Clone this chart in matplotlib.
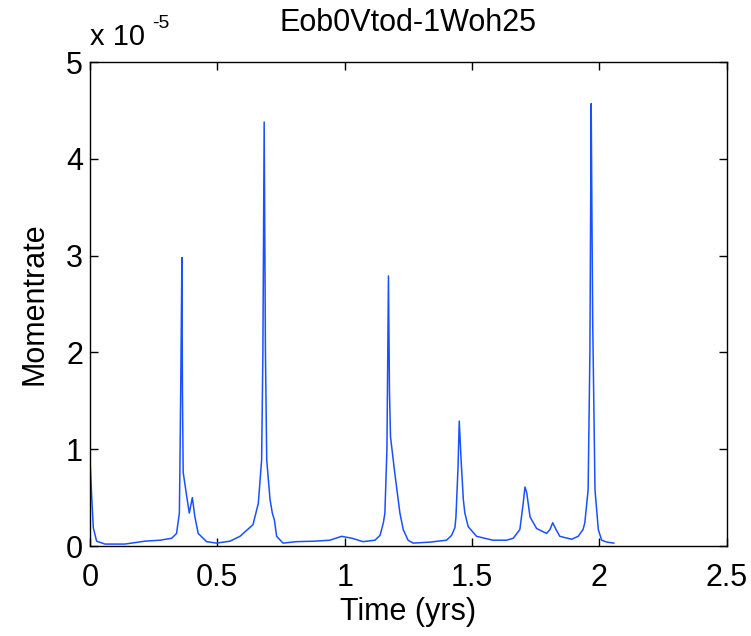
import matplotlib
matplotlib.use("Agg")
import matplotlib.pyplot as plt

# values (momentrate in units of 1e-5)
time_yrs = [
    0.000, 0.007, 0.013, 0.026, 0.059, 0.137, 0.216, 0.275, 0.321, 0.340,
    0.351, 0.353, 0.357, 0.361, 0.363, 0.366, 0.380, 0.390, 0.402, 0.412,
    0.425, 0.458, 0.497, 0.550, 0.589, 0.640, 0.661, 0.674, 0.679, 0.684,
    0.689, 0.694, 0.707, 0.716, 0.724, 0.733, 0.758, 0.812, 0.883, 0.942,
    0.988, 1.029, 1.072, 1.119, 1.139, 1.152, 1.158, 1.166, 1.172, 1.176,
    1.180, 1.197, 1.217, 1.230, 1.249, 1.269, 1.335, 1.400, 1.420, 1.433,
    1.437, 1.445, 1.450, 1.457, 1.466, 1.472, 1.485, 1.518, 1.582, 1.636,
    1.662, 1.688, 1.701, 1.708, 1.715, 1.728, 1.754, 1.793, 1.806, 1.817,
    1.830, 1.845, 1.891, 1.917, 1.936, 1.943, 1.956, 1.963, 1.968, 1.971,
    1.974, 1.983, 1.996, 2.009, 2.030, 2.057,
]
momentrate_e5 = [
    0.90, 0.50, 0.19, 0.05, 0.02, 0.02, 0.05, 0.06, 0.08, 0.13,
    0.34, 0.76, 1.80, 2.98, 1.60, 0.76, 0.51, 0.34, 0.50, 0.30,
    0.13, 0.045, 0.03, 0.05, 0.10, 0.22, 0.44, 0.89, 2.00, 4.38,
    2.00, 0.89, 0.48, 0.34, 0.27, 0.10, 0.03, 0.045, 0.05, 0.06,
    0.10, 0.08, 0.045, 0.06, 0.11, 0.24, 0.34, 1.00, 2.79, 1.60,
    1.13, 0.75, 0.34, 0.17, 0.06, 0.03, 0.04, 0.06, 0.11, 0.19,
    0.30, 0.80, 1.29, 0.90, 0.48, 0.34, 0.20, 0.10, 0.06, 0.06,
    0.08, 0.17, 0.44, 0.61, 0.55, 0.30, 0.18, 0.13, 0.17, 0.24,
    0.17, 0.10, 0.07, 0.10, 0.17, 0.24, 0.58, 2.00, 4.57, 3.40,
    2.31, 0.58, 0.17, 0.06, 0.04, 0.03,
]
x_ticks = [0, 0.5, 1, 1.5, 2, 2.5]
x_labels = ["0", "0.5", "1", "1.5", "2", "2.5"]
y_ticks = [0, 1, 2, 3, 4, 5]

plt.rcParams["font.family"] = ["Liberation Sans", "DejaVu Sans"]
FS = 22

fig = plt.figure(figsize=(7.51, 6.36), dpi=100)
ax = fig.add_axes([0.1198, 0.1415, 0.8478, 0.761])

ax.plot(time_yrs, momentrate_e5, color="#1a50ff", lw=1.1)

ax.set_xlim(0, 2.5)
ax.set_ylim(0, 5)
ax.set_xticks(x_ticks)
ax.set_xticklabels(x_labels)
ax.set_yticks(y_ticks)
ax.tick_params(direction="in", top=True, right=True, length=6, width=1,
               labelsize=FS)
ax.tick_params(axis="x", pad=12)
ax.tick_params(axis="y", pad=5)
for s in ax.spines.values():
    s.set_linewidth(1.0)

ax.set_xlabel("Time (yrs)", fontsize=FS, labelpad=3)
ax.set_ylabel("Momentrate", fontsize=FS, labelpad=12)
ax.set_title("Eob0Vtod-1Woh25", fontsize=FS, pad=22)
ax.text(0.0, 1.022, "x 10", transform=ax.transAxes, fontsize=21,
        ha="left", va="bottom")
ax.text(0.097, 1.062, "-5", transform=ax.transAxes, fontsize=14,
        ha="left", va="bottom")

fig.savefig("out.png", dpi=100)
